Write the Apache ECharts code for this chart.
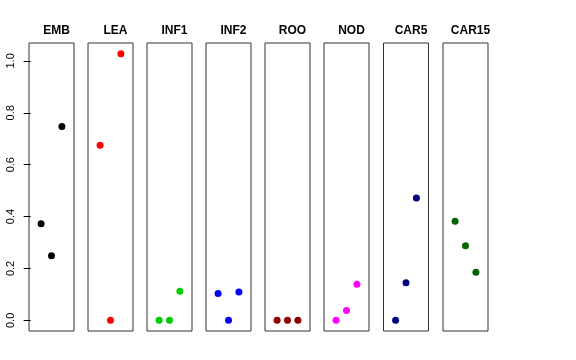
<!DOCTYPE html>
<html><head><meta charset="utf-8">
<script src="https://cdn.jsdelivr.net/npm/echarts@6/dist/echarts.min.js"></script>
<style>html,body{margin:0;padding:0;background:#fff}#c{width:576px;height:360px}</style>
</head><body><div id="c"></div>
<script>
const panels = ['EMB','LEA','INF1','INF2','ROO','NOD','CAR5','CAR15'];
const xPos = [1, 2, 3];
const EMB = [0.372, 0.249, 0.747];
const LEA = [0.675, 0.0, 1.028];
const INF1 = [0.0, 0.0, 0.112];
const INF2 = [0.104, 0.0, 0.109];
const ROO = [0.0, 0.0, 0.0];
const NOD = [0.0, 0.038, 0.139];
const CAR5 = [0.0, 0.145, 0.472];
const CAR15 = [0.382, 0.288, 0.185];
const yTicks = [0, 0.2, 0.4, 0.6, 0.8, 1.0];
const colors = ['#000000','#FF0000','#00CD00','#0000FF','#8B0000','#FF00FF','#000080','#006400'];
const values = [EMB, LEA, INF1, INF2, ROO, NOD, CAR5, CAR15];

const lefts = [29, 88, 147, 206, 265, 324, 383.5, 443];
const W = 45, TOP = 43, H = 288;
const chart = echarts.init(document.getElementById('c'), null, {renderer:'canvas'});
const grid = [], xAxis = [], yAxis = [], series = [], title = [];
panels.forEach((p, i) => {
  grid.push({left: lefts[i], top: TOP, width: W, height: H, show: true, borderColor: '#333', borderWidth: 1, backgroundColor: 'transparent'});
  xAxis.push({gridIndex: i, type: 'value', min: -0.16, max: 4.16, show: false});
  yAxis.push({gridIndex: i, type: 'value', min: -0.041, max: 1.069, show: i === 0,
    splitLine: {show: false},
    axisLine: {show: false},
    axisTick: {show: true, length: 7, lineStyle: {color: '#000'}, customValues: yTicks},
    axisLabel: {show: true, rotate: 90, margin: 13, fontSize: 11, color: '#000', fontFamily: 'Liberation Sans, Arial, sans-serif',
      customValues: yTicks, formatter: v => v.toFixed(1)}
  });
  series.push({type: 'scatter', xAxisIndex: i, yAxisIndex: i, symbol: 'circle', symbolSize: 7,
    itemStyle: {color: colors[i], opacity: 1}, silent: true,
    data: values[i].map((v, k) => [xPos[k], v])});
  title.push({text: p, left: lefts[i] + W / 2, top: 20, textAlign: 'center',
    textStyle: {fontSize: 12, fontWeight: 'bold', color: '#000', fontFamily: 'Liberation Sans, Arial, sans-serif'}});
});
chart.setOption({animation: false, title, grid, xAxis, yAxis, series});
</script></body></html>
